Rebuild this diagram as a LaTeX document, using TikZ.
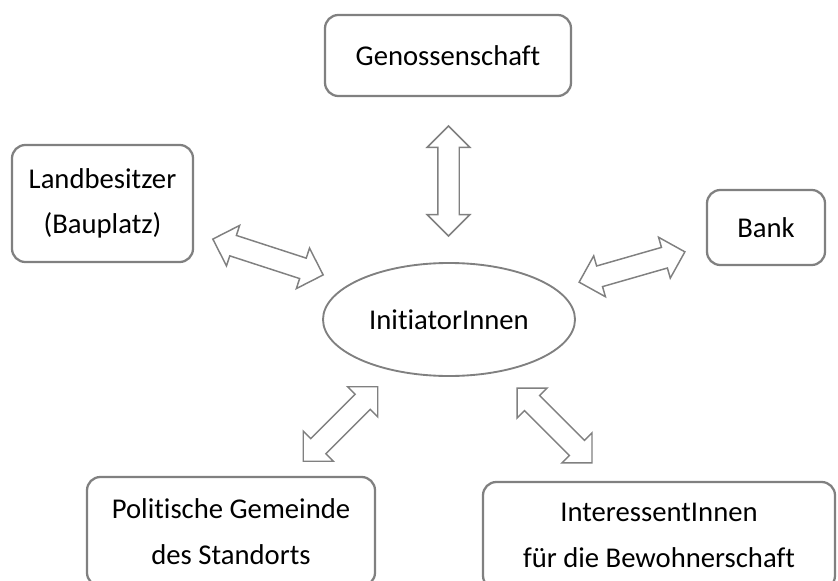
\documentclass[tikz,border=0pt]{standalone}
\usepackage{fontspec}
\setmainfont{Carlito}[Ligatures={NoCommon}]
\usetikzlibrary{shapes.geometric,shapes.arrows}
\definecolor{rand}{HTML}{808080}
\tikzset{
  kasten/.style={rectangle, draw=rand, line width=1.7pt, rounded corners=10pt,
                 align=center, inner sep=0pt, font=\fontsize{21.5}{34}\selectfont},
  oval/.style={ellipse, draw=rand, line width=1.4pt, inner sep=0pt,
               font=\fontsize{21.5}{34}\selectfont},
  doppelpfeil/.style={double arrow, draw=rand, fill=white, line width=1.1pt,
                      inner sep=7.5pt, minimum width=0pt, double arrow head extend=7.9pt,
                      double arrow head indent=0pt, double arrow tip angle=90}
}
\begin{document}
\begin{tikzpicture}[x=0.75pt,y=-0.75pt]
\useasboundingbox (0,0) rectangle (838,581);
\clip (0,0) rectangle (838,581);

\node[kasten,minimum width=184.5pt,minimum height=60.75pt] (genossenschaft) at (448,55.5) {Genossenschaft};
\node[kasten,minimum width=135.75pt,minimum height=87.75pt] (land) at (102.5,203.5) {Landbesitzer\\(Bauplatz)};
\node[kasten,minimum width=88.5pt,minimum height=56.25pt] (bank) at (766,227.5) {Bank};
\node[kasten,minimum width=216pt,minimum height=81.75pt] (gemeinde) at (231,531.5) {Politische Gemeinde\\des Standorts};
\node[kasten,minimum width=264pt,minimum height=80.25pt] (interessent) at (659,535.5) {InteressentInnen\\f\"ur die Bewohnerschaft};
\node[oval,minimum width=189pt,minimum height=84.75pt] (initiator) at (449,319.5) {InitiatorInnen};

% Doppelpfeile
\node[doppelpfeil,minimum height=82.5pt,rotate=90] (p1) at (448.5,181) {};
\node[doppelpfeil,minimum height=87pt,rotate=-18] (p2) at (268,257) {};
\node[doppelpfeil,minimum height=82.5pt,rotate=16] (p3) at (632,267) {};
\node[doppelpfeil,minimum height=79pt,rotate=45] (p4) at (340.5,424) {};
\node[doppelpfeil,minimum height=79.5pt,rotate=-45] (p5) at (554.5,425.5) {};
\end{tikzpicture}
\end{document}
